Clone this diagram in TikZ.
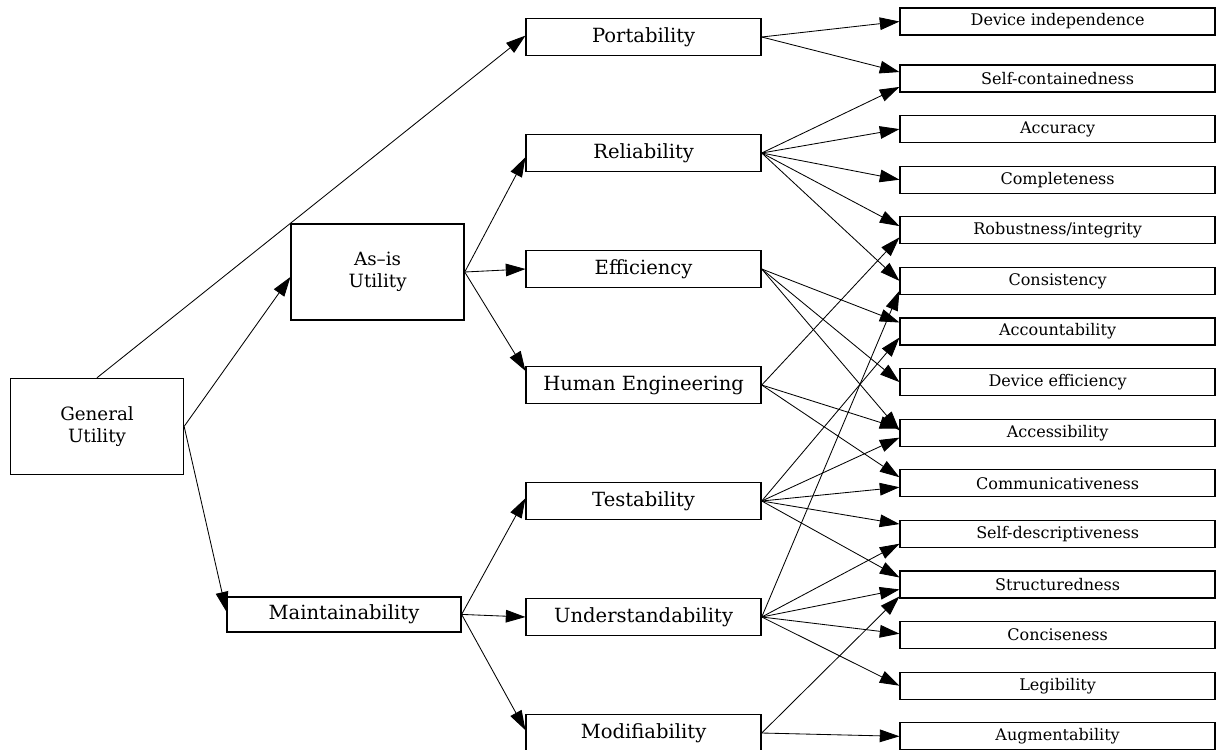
\documentclass[tikz,border=0pt]{standalone}
\usepackage{fontspec}
\setmainfont{DejaVu Serif}
\usetikzlibrary{arrows.meta,positioning}

\begin{document}
\begin{tikzpicture}
\tikzstyle{big}=[draw, line width=0.9pt, minimum width=4.325cm, minimum height=2.4cm, align=center, font=\fontsize{13}{15.6}\selectfont]
\tikzstyle{mid}=[draw, line width=0.9pt, minimum width=5.875cm, minimum height=0.925cm, inner sep=0pt, font=\fontsize{13.9}{16}\selectfont, node distance=2.9cm]
\tikzstyle{leaf}=[draw, line width=0.9pt, minimum width=7.875cm, minimum height=0.675cm, inner sep=0pt, font=\fontsize{11.4}{13}\selectfont, node distance=1.265cm]
\tikzstyle{arr}=[-{Triangle[length=14pt,width=9pt]}, line width=0.6pt]

\useasboundingbox (0,0) rectangle (30.425,-18.725);

\node[big] (G) at (2.425,-10.66) {General\\Utility};
\node[big] (AU) at (9.44,-6.8) {As--is\\Utility};
\node[mid, minimum width=5.85cm, minimum height=0.875cm] (M) at (8.6,-15.36) {Maintainability};

\node[mid] (P) at (16.09,-0.925) {Portability};
\node[mid, below of = P] (R) {Reliability};
\node[mid, below of = R] (E) {Efficiency};
\node[mid, below of = E] (H) {Human Engineering};
\node[mid, below of = H] (T) {Testability};
\node[mid, below of = T] (U) {Understandability};
\node[mid, below of = U] (Mo) {Modifiability};

\node[leaf] (DI) at (26.44,-0.5375) {Device independence};
\node[leaf, below of = DI, node distance=1.425cm] (SC) {Self-containedness};
\node[leaf, below of = SC] (AC) {Accuracy};
\node[leaf, below of = AC] (CO) {Completeness};
\node[leaf, below of = CO] (RI) {Robustness/integrity};
\node[leaf, below of = RI] (CS) {Consistency};
\node[leaf, below of = CS] (AT) {Accountability};
\node[leaf, below of = AT] (DE) {Device efficiency};
\node[leaf, below of = DE] (AS) {Accessibility};
\node[leaf, below of = AS] (CM) {Communicativeness};
\node[leaf, below of = CM] (SD) {Self-descriptiveness};
\node[leaf, below of = SD] (ST) {Structuredness};
\node[leaf, below of = ST] (CN) {Conciseness};
\node[leaf, below of = CN] (LE) {Legibility};
\node[leaf, below of = LE] (AG) {Augmentability};

\draw[arr] (G.north) -- ([yshift=1pt]P.west);
\draw[arr] (G.east) -- ([yshift=-3.5pt]AU.west);
\draw[arr] (G.east) -- ([yshift=2pt]M.west);
\draw[arr] (AU.east) -- ([yshift=-3pt]R.west);
\draw[arr] (AU.east) -- (E.west);
\draw[arr] (AU.east) -- ([yshift=10pt]H.west);
\draw[arr] (M.east) -- ([yshift=2pt]T.west);
\draw[arr] (M.east) -- (U.west);
\draw[arr] (M.east) -- ([yshift=2pt]Mo.west);

\draw[arr] (P.east) -- (DI.west);
\draw[arr] (P.east) -- ([yshift=4.6pt]SC.west);
\draw[arr] (R.east) -- ([yshift=-6pt]SC.west);
\draw[arr] (R.east) -- (AC.west);
\draw[arr] (R.east) -- (CO.west);
\draw[arr] (R.east) -- ([yshift=3pt]RI.west);
\draw[arr] (R.east) -- (CS.west);
\draw[arr] (E.east) -- ([yshift=6.4pt]AT.west);
\draw[arr] (E.east) -- (DE.west);
\draw[arr] (E.east) -- ([yshift=1.5pt]AS.west);
\draw[arr] (H.east) -- ([yshift=-5pt]RI.west);
\draw[arr] (H.east) -- ([yshift=3pt]AS.west);
\draw[arr] (H.east) -- ([yshift=4.3pt]CM.west);
\draw[arr] (T.east) -- ([yshift=-4.3pt]AT.west);
\draw[arr] (T.east) -- ([yshift=-3.5pt]AS.west);
\draw[arr] (T.east) -- ([yshift=-2.8pt]CM.west);
\draw[arr] (T.east) -- ([yshift=7pt]SD.west);
\draw[arr] (T.east) -- ([yshift=5pt]ST.west);
\draw[arr] (U.east) -- ([yshift=-7pt]CS.west);
\draw[arr] (U.east) -- ([yshift=-7pt]SD.west);
\draw[arr] (U.east) -- ([yshift=-3.5pt]ST.west);
\draw[arr] (U.east) -- ([yshift=1pt]CN.west);
\draw[arr] (U.east) -- (LE.west);
\draw[arr] (Mo.east) -- ([yshift=-8.5pt]ST.west);
\draw[arr] (Mo.east) -- (AG.west);
\end{tikzpicture}
\end{document}
